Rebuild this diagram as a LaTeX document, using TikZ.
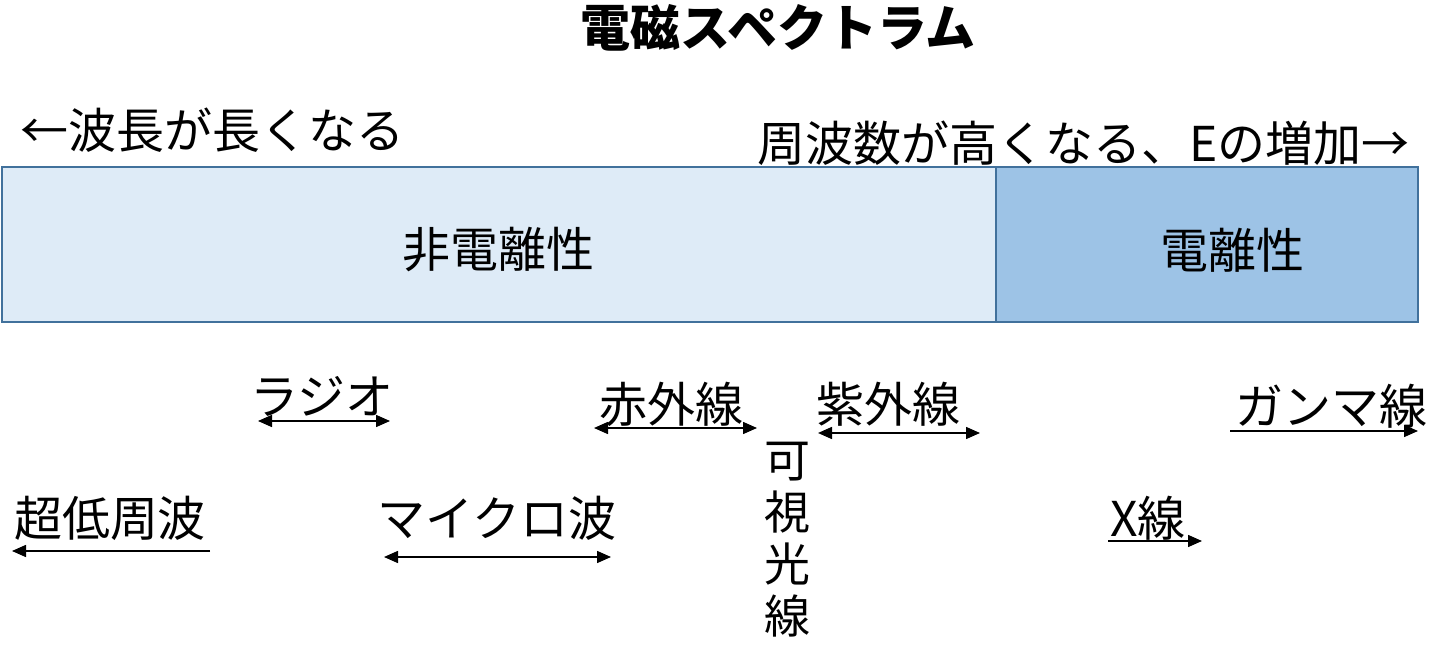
\documentclass[tikz,border=0pt]{standalone}
\usepackage{fontspec}
\setmainfont{Noto Sans CJK JP}
\usetikzlibrary{arrows.meta}
\definecolor{lightb}{HTML}{DEEBF7}
\definecolor{darkb}{HTML}{9DC3E6}
\definecolor{edge}{HTML}{41719C}
\begin{document}
\begin{tikzpicture}[x=1pt,y=-1pt,
  lbl/.style={inner sep=0pt,font=\fontsize{48}{52}\selectfont},
  ar/.style={line width=1.5pt,-{Triangle[length=14pt,width=12pt]}},
  dar/.style={line width=1.5pt,{Triangle[length=14pt,width=12pt]}-{Triangle[length=14pt,width=12pt]}}]
\useasboundingbox (0,0) rectangle (1433,652);
\node[inner sep=0pt,font=\fontsize{50}{54}\selectfont\bfseries] (title) at (778,28) {電磁スペクトラム};
\node[lbl,anchor=west] (left) at (20,130) {←波長が長くなる};
\node[lbl,anchor=east] (right) at (1410,143) {周波数が高くなる、Eの増加→};
\draw[draw=edge,line width=1.2pt,fill=lightb] (2,167) rectangle (996,322);
\draw[draw=edge,line width=1.2pt,fill=darkb] (996,167) rectangle (1418,322);
\node[lbl] (non) at (498,250) {非電離性};
\node[lbl] (ion) at (1232,250) {電離性};
\node[lbl] (radio) at (322,396) {ラジオ};
\coordinate (r1) at (258,421); \coordinate (r2) at (390,421);
\draw[dar] (r1) -- (r2);
\node[lbl] (ir) at (671,404) {赤外線};
\coordinate (i1) at (594,428); \coordinate (i2) at (757,428);
\draw[dar] (i1) -- (i2);
\node[lbl] (uv) at (888,404) {紫外線};
\coordinate (u1) at (818,433); \coordinate (u2) at (980,433);
\draw[dar] (u1) -- (u2);
\node[lbl] (gamma) at (1331,406) {ガンマ線};
\coordinate (g1) at (1230,431); \coordinate (g2) at (1418,431);
\draw[ar] (g1) -- (g2);
\node[lbl] (elf) at (110,518) {超低周波};
\coordinate (e1) at (210,551); \coordinate (e2) at (12,551);
\draw[ar] (e1) -- (e2);
\node[lbl] (mw) at (497,518) {マイクロ波};
\coordinate (m1) at (384,557); \coordinate (m2) at (611,557);
\draw[dar] (m1) -- (m2);
\node[lbl] (xr) at (1148,518) {X線};
\coordinate (x1) at (1108,541); \coordinate (x2) at (1202,541);
\draw[ar] (x1) -- (x2);
\node[lbl,align=center,font=\fontsize{46}{52}\selectfont] (vis) at (787,540) {可\\視\\光\\線};
\end{tikzpicture}
\end{document}
